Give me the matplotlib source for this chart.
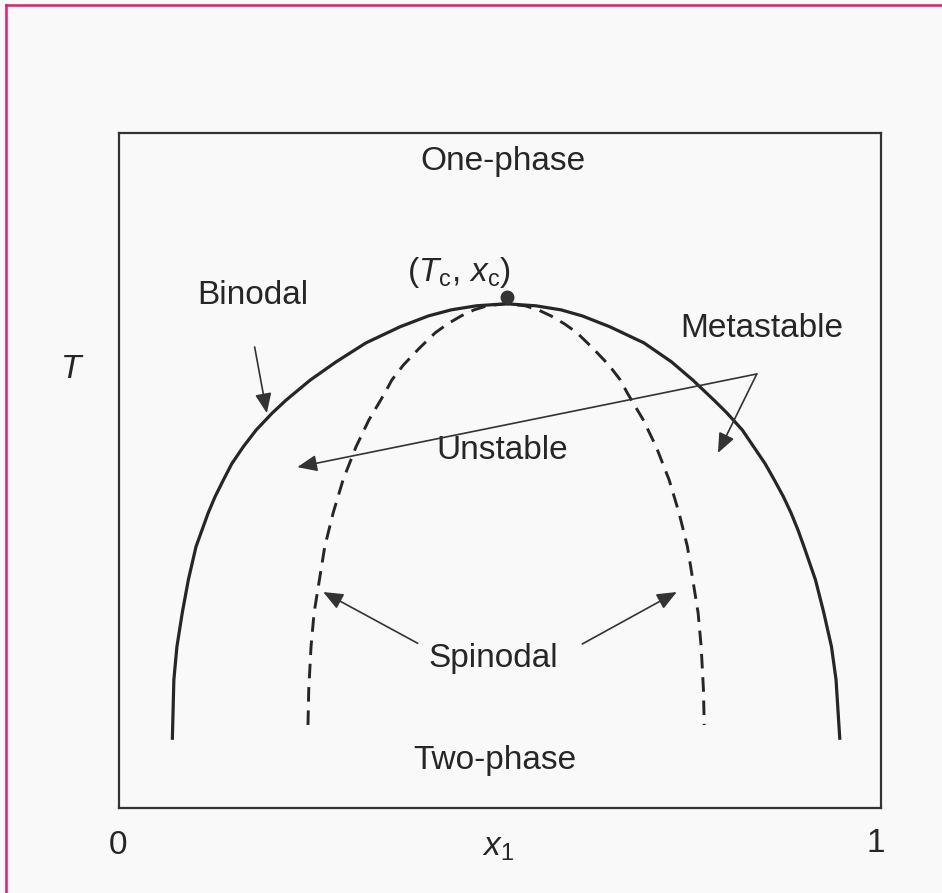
import matplotlib.pyplot as plt
from matplotlib.lines import Line2D

plt.rcParams['font.family'] = 'Liberation Sans'
plt.rcParams['mathtext.fontset'] = 'custom'
plt.rcParams['mathtext.rm'] = 'Liberation Sans'
plt.rcParams['mathtext.it'] = 'Liberation Sans:italic'

# binodal (coexistence) curve, left branch bottom -> top -> right branch bottom
binodal_x = [0.070, 0.072, 0.076, 0.083, 0.091, 0.101, 0.109, 0.117, 0.126,
             0.137, 0.148, 0.163, 0.180, 0.201, 0.219, 0.251, 0.285, 0.324,
             0.369, 0.406, 0.436, 0.469, 0.508,
             0.547, 0.580, 0.608, 0.644, 0.689, 0.725, 0.753, 0.781, 0.798,
             0.818, 0.833, 0.848, 0.860, 0.872, 0.882, 0.891, 0.899, 0.914,
             0.925, 0.935, 0.941, 0.946]
binodal_T = [0.101, 0.190, 0.239, 0.289, 0.338, 0.387, 0.412, 0.437, 0.461,
             0.486, 0.510, 0.535, 0.560, 0.585, 0.604, 0.634, 0.661, 0.689,
             0.713, 0.729, 0.738, 0.744, 0.747,
             0.744, 0.738, 0.729, 0.713, 0.689, 0.661, 0.634, 0.604, 0.585,
             0.560, 0.535, 0.510, 0.486, 0.461, 0.437, 0.412, 0.387, 0.338,
             0.289, 0.239, 0.190, 0.101]

# spinodal curve
spinodal_x = [0.248, 0.249, 0.252, 0.256, 0.263, 0.270, 0.281, 0.294, 0.311,
              0.328, 0.349, 0.358, 0.373, 0.394, 0.415, 0.431, 0.449, 0.466,
              0.483, 0.508,
              0.533, 0.550, 0.567, 0.585, 0.601, 0.622, 0.643, 0.658, 0.667,
              0.688, 0.705, 0.722, 0.735, 0.746, 0.753, 0.760, 0.764, 0.767,
              0.768]
spinodal_T = [0.123, 0.175, 0.239, 0.289, 0.338, 0.387, 0.437, 0.486, 0.535,
              0.575, 0.615, 0.634, 0.656, 0.681, 0.704, 0.717, 0.729, 0.738,
              0.744, 0.747,
              0.744, 0.738, 0.729, 0.717, 0.704, 0.681, 0.656, 0.634, 0.615,
              0.575, 0.535, 0.486, 0.437, 0.387, 0.338, 0.289, 0.239, 0.175,
              0.123]

critical_x, critical_T = 0.509, 0.757

ink = '#262626'
fig = plt.figure(figsize=(9.42, 8.93), dpi=100)
fig.patch.set_facecolor('#f9f9f9')
ax = fig.add_axes([119/942, 85/893, 762/942, 675/893])
ax.set_facecolor('#f9f9f9')
ax.set_xlim(0, 1)
ax.set_ylim(0, 1)
ax.set_xticks([])
ax.set_yticks([])
for s in ax.spines.values():
    s.set_linewidth(1.6)
    s.set_color('#333333')

ax.plot(binodal_x, binodal_T, color=ink, lw=2.3, solid_capstyle='butt',
        solid_joinstyle='round')
ax.plot(spinodal_x, spinodal_T, color=ink, lw=2.1, dashes=(5, 3),
        dash_joinstyle='round')
ax.plot(critical_x, critical_T, 'o', color='#333333', ms=9)

fs = 24
ax.text(0.504, 0.958, 'One-phase', fontsize=fs, color=ink, ha='center', va='center')
ax.text(0.446, 0.794, r'$(T_{\rm c},\, x_{\rm c})$', fontsize=fs, color=ink,
        ha='center', va='center')
ax.text(0.176, 0.760, 'Binodal', fontsize=fs, color=ink, ha='center', va='center')
ax.text(0.844, 0.711, 'Metastable', fontsize=fs, color=ink, ha='center', va='center')
ax.text(0.503, 0.530, 'Unstable', fontsize=fs, color=ink, ha='center', va='center')
ax.text(0.491, 0.222, 'Spinodal', fontsize=fs, color=ink, ha='center', va='center')
ax.text(0.493, 0.071, 'Two-phase', fontsize=fs, color=ink, ha='center', va='center')

ax.text(-0.001, -0.056, '0', fontsize=fs, color=ink, ha='center', va='center', clip_on=False)
ax.text(0.993, -0.052, '1', fontsize=fs, color=ink, ha='center', va='center', clip_on=False)
ax.text(0.497, -0.059, r'$x_1$', fontsize=fs, color=ink, ha='center', va='center', clip_on=False)
ax.text(-0.062, 0.649, r'$T$', fontsize=fs, color=ink, ha='center', va='center', clip_on=False)

arrow = dict(arrowstyle='-|>,head_length=0.6,head_width=0.25', color='#333333',
             lw=1.2, mutation_scale=20, shrinkA=0, shrinkB=0)
pointers = [((0.178, 0.683), (0.194, 0.585)),
            ((0.837, 0.643), (0.234, 0.505)),
            ((0.837, 0.643), (0.786, 0.526)),
            ((0.392, 0.244), (0.268, 0.320)),
            ((0.608, 0.243), (0.732, 0.320))]
for start, tip in pointers:
    ax.annotate('', xy=tip, xytext=start, arrowprops=arrow)

# page frame on top and left
fig.add_artist(Line2D([6/942, 1], [1 - 5/893, 1 - 5/893], color='#e8196b', lw=1.8))
fig.add_artist(Line2D([6/942, 6/942], [0, 1 - 5/893], color='#e8196b', lw=1.8))

fig.savefig('out.png', dpi=100, facecolor=fig.get_facecolor())
